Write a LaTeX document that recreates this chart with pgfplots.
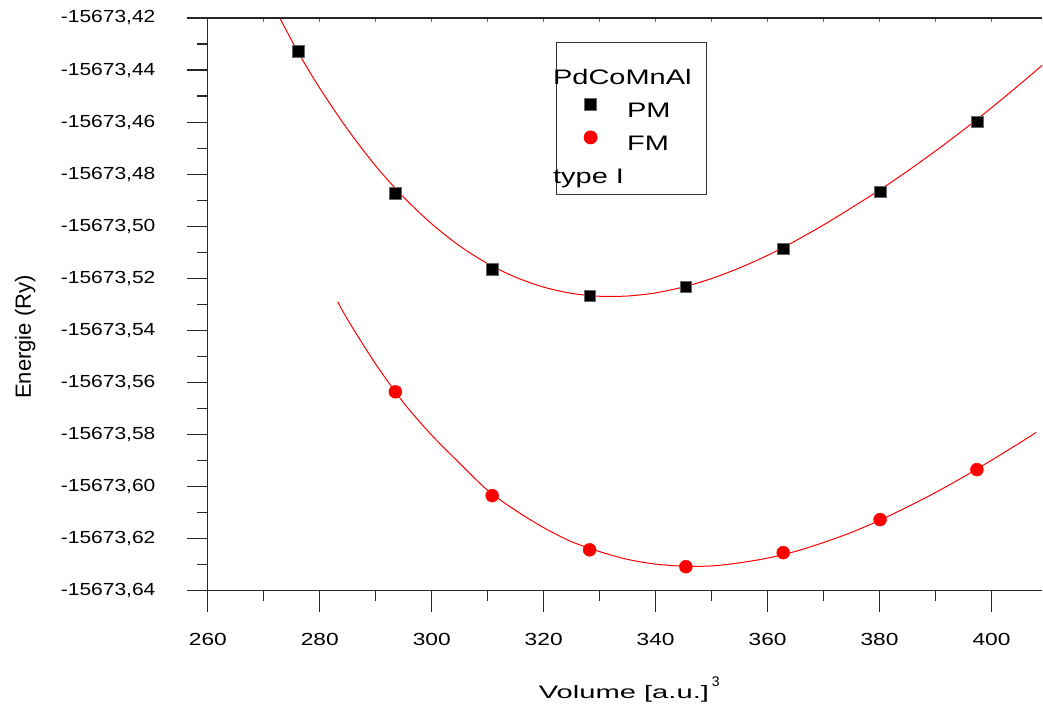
\documentclass[border=0pt]{standalone}
\usepackage{fontspec}
\setmainfont{Liberation Sans}
\usepackage{graphicx}
\usepackage{pgfplots}
\pgfplotsset{compat=1.18}
\newcommand\sx[1]{\scalebox{1.3}[1]{#1}}
\newcommand\sy[1]{\scalebox{1.2}[1]{#1}}
\newcommand\slg[1]{\scalebox{1.38}[1]{#1}}

% energies stored as E + 15673 (Ry), tick labels carry the full value
\pgfplotstableread{
V      E
276.1  -0.4327
293.5  -0.4872
310.8  -0.5165
328.2  -0.5267
345.4  -0.5233
362.8  -0.5087
380.1  -0.4868
397.4  -0.4599
}\pm

\pgfplotstableread{
V      E
293.5  -0.5636
310.8  -0.6035
328.2  -0.6243
345.4  -0.6308
362.8  -0.6254
380.1  -0.6127
397.4  -0.5935
}\fm

\begin{document}
\begin{tikzpicture}
\begin{axis}[
  scale only axis, width=835pt, height=573pt,
  xmin=260, xmax=409.1, ymin=-0.64, ymax=-0.42,
  axis x line=bottom, axis y line=left,
  axis line style={-, line width=1.2pt, black!85},
  tick style={line width=1.2pt, black!85},
  tick align=outside, major tick length=21pt, minor tick length=10.5pt,
  xtick={260,280,300,320,340,360,380,400}, minor x tick num=1,
  xticklabels={\sx{260},\sx{280},\sx{300},\sx{320},\sx{340},\sx{360},\sx{380},\sx{400}},
  ytick={-0.64,-0.62,-0.60,-0.58,-0.56,-0.54,-0.52,-0.50,-0.48,-0.46,-0.44,-0.42},
  yticklabels={\sy{-15673,64},\sy{-15673,62},\sy{-15673,60},\sy{-15673,58},
               \sy{-15673,56},\sy{-15673,54},\sy{-15673,52},\sy{-15673,50},
               \sy{-15673,48},\sy{-15673,46},\sy{-15673,44},\sy{-15673,42}},
  minor y tick num=1,
  tick label style={font=\fontsize{17.5}{17.5}\selectfont},
  yticklabel style={xshift=-28pt},
  xticklabel style={yshift=-18pt},
  xlabel={\fontsize{18}{18}\selectfont\scalebox{1.62}[1]{Volume [a.u.]}\,\raisebox{12pt}{\fontsize{14}{14}\selectfont 3}},
  xlabel style={at={(axis description cs:0.505,-0.172)}, anchor=center},
  ylabel={\fontsize{22}{22}\selectfont Energie (Ry)},
  ylabel style={at={(axis description cs:-0.219,0.443)}, anchor=center},
  legend style={at={(0.4168,0.958)}, anchor=north west,
    draw=black!80, line width=0.8pt, inner xsep=3pt, inner ysep=8pt,
    font=\fontsize{21}{21}\selectfont,
    column sep=4pt,
    nodes={inner sep=2pt}},
  legend image post style={xshift=23pt},
  legend cell align=left,
]
\addlegendimage{empty legend}
\addlegendentry{\rule[-6pt]{0pt}{38pt}\hspace*{-50pt}\slg{PdCoMnAl}\hspace*{10pt}}
\addplot[only marks, mark=square*, mark size=5.8pt, draw=black!60, fill=black]
  table[x=V, y=E] {\pm};
\addlegendentry{\rule[-6pt]{0pt}{33.5pt}\hspace*{24pt}\slg{PM}}
\addplot[only marks, mark=*, mark size=6.5pt, draw=red, fill=red]
  table[x=V, y=E] {\fm};
\addlegendentry{\rule[-6pt]{0pt}{33.5pt}\hspace*{24pt}\slg{FM}}
\addlegendimage{empty legend}
\addlegendentry{\rule[-6pt]{0pt}{33.5pt}\hspace*{-50pt}\slg{type I}}

% fitted curves
\addplot[red, line width=1pt, smooth, forget plot] coordinates {
(272,-0.4165) (276,-0.4327) (280,-0.4470) (285,-0.4629) (290,-0.4769)
(295,-0.4889) (300,-0.4991) (305,-0.5076) (310,-0.5144) (315,-0.5196)
(320,-0.5234) (325,-0.5258) (330,-0.5269) (335,-0.5268) (340,-0.5256)
(345,-0.5233) (350,-0.5201) (355,-0.5160) (360,-0.5112) (365,-0.5056)
(370,-0.4995) (375,-0.4929) (380,-0.4861) (385,-0.4788) (390,-0.4711)
(395,-0.4630) (400,-0.4545) (405,-0.4456) (409.1,-0.4381)};
\addplot[red, line width=1pt, smooth, forget plot] coordinates {
(283.2,-0.5290) (285,-0.5360) (290,-0.5530) (295,-0.5679) (300,-0.5803)
(305,-0.5911) (310,-0.6015) (315,-0.6092) (320,-0.6158) (325,-0.6212)
(330,-0.6250) (335,-0.6280) (340,-0.6298) (345,-0.6306) (350,-0.6305)
(355,-0.6293) (360,-0.6275) (365,-0.6249) (370,-0.6215) (375,-0.6176)
(380,-0.6130) (385,-0.6078) (390,-0.6023) (395,-0.5963) (400,-0.5899)
(405,-0.5833) (408,-0.5792)};
\end{axis}
% top spine with small inward ticks
\begin{axis}[
  scale only axis, width=835pt, height=573pt,
  xmin=260, xmax=409.1, ymin=0, ymax=1,
  axis x line=top, axis y line=none,
  axis line style={-, line width=1.2pt, black!85},
  xtick={270,280,...,400}, xticklabels={},
  tick align=inside, major tick length=4pt,
  xtick style={line width=0.8pt, black!60},
]
\end{axis}
\path (current axis.south west) ++(-208pt,-115pt) rectangle ++(1043pt,706pt);
\end{tikzpicture}
\end{document}
